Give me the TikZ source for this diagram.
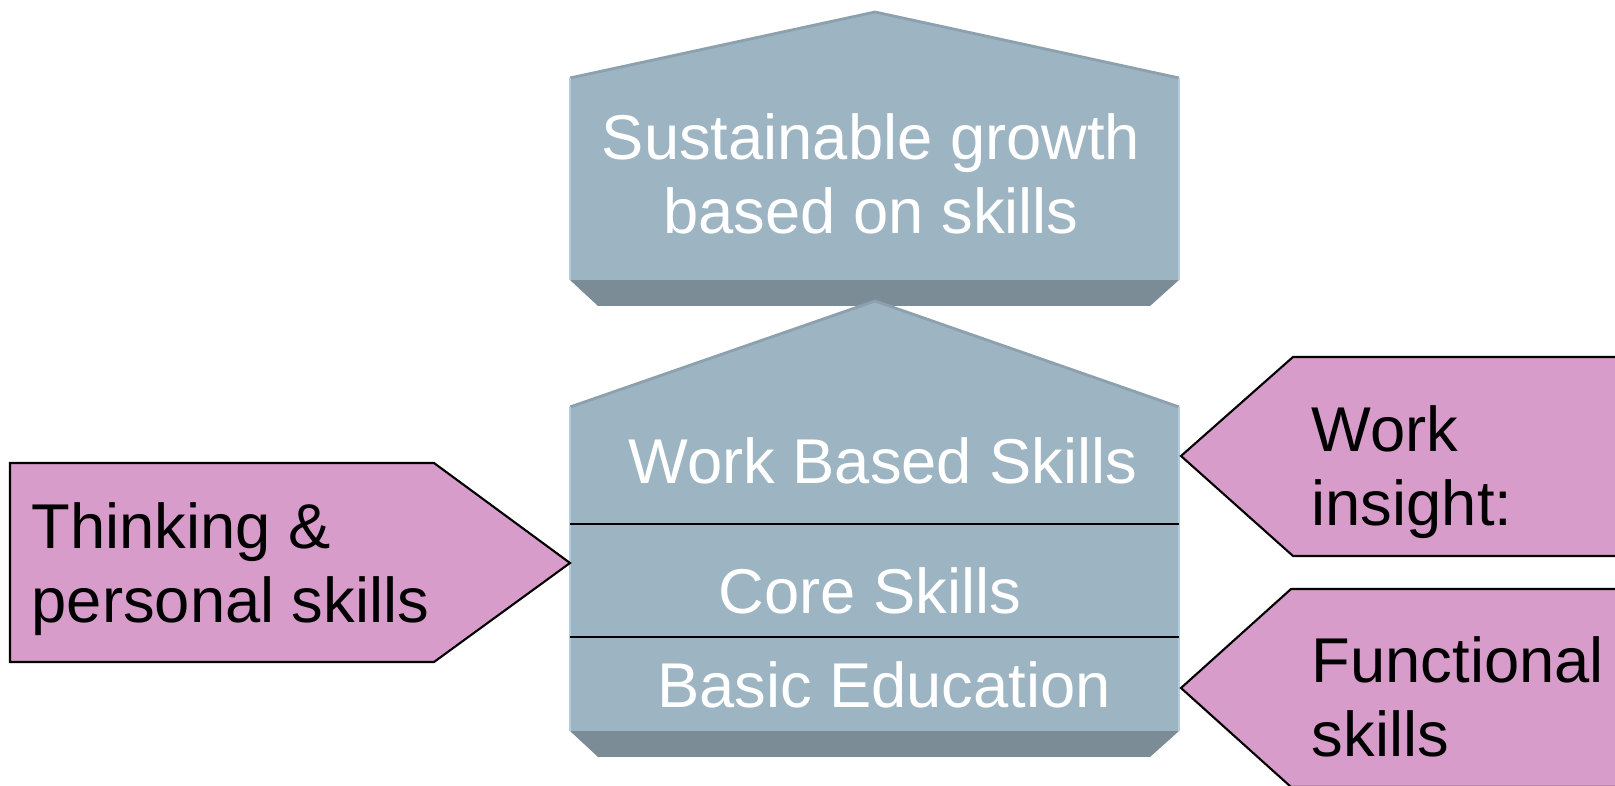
\documentclass[tikz,border=0pt]{standalone}
\usepackage{fontspec}
\setmainfont{Liberation Sans}
\usetikzlibrary{calc,positioning}
\definecolor{housefill}{RGB}{157,180,195}
\definecolor{houseshade}{RGB}{123,140,151}
\definecolor{houseedge}{RGB}{140,160,174}
\definecolor{houselight}{RGB}{180,205,222}
\definecolor{calloutfill}{RGB}{216,156,203}

\begin{document}
\begin{tikzpicture}[x=0.01cm, y=-0.01cm,
    every node/.style={font=\fontsize{18pt}{21pt}\selectfont},
    house/.style={fill=housefill},
    shade/.style={fill=houseshade},
    callout/.style={fill=calloutfill, draw=black, line width=0.6pt},
    housetext/.style={text=white, align=center, inner sep=0pt},
    callouttext/.style={text=black, align=left, anchor=west, inner sep=0pt}]
        \clip (0,0) rectangle (1615,786);

        % top house
        \coordinate (t1) at (570,78);
        \coordinate (t2) at (875,12);
        \coordinate (t3) at (1179,78);
        \coordinate (t4) at (1179,280);
        \coordinate (t5) at (570,280);
        \fill[shade] (t5) -- (t4) -- (1150,306) -- (598,306) -- cycle;
        \fill[house] (t1)--(t2)--(t3)--(t4)--(t5)-- cycle;
        \draw[houseedge, line width=0.8pt] (t1)--(t2)--(t3);
        \draw[houselight, line width=0.8pt] (t1)--(t5);
        \draw[houselight, line width=0.8pt] (t3)--(t4);
        \node[housetext] (growth) at (871,174) {Sustainable growth\\based on skills};

        % bottom house
        \coordinate (b1) at (570,407);
        \coordinate (b2) at (875,301);
        \coordinate (b3) at (1179,407);
        \coordinate (b4) at (1179,731);
        \coordinate (b5) at (570,731);
        \fill[shade] (b5) -- (b4) -- (1150,757) -- (598,757) -- cycle;
        \fill[house] (b1)--(b2)--(b3)--(b4)--(b5)-- cycle;
        \draw[houseedge, line width=0.8pt] (b1)--(b2)--(b3);
        \draw[houselight, line width=0.8pt] (b1)--(b5);
        \draw[houselight, line width=0.8pt] (b3)--(b4);
        \coordinate (l1) at (570,524);
        \coordinate (l2) at (1179,524);
        \coordinate (l3) at (570,637);
        \coordinate (l4) at (1179,637);
        \draw[line width=0.8pt] (l1)--(l2);
        \draw[line width=0.8pt] (l3)--(l4);
        \node[housetext] (work) at (883,461) {Work Based Skills};
        \node[housetext] (core) at (870,591) {Core Skills};
        \node[housetext] (basic) at (884,685) {Basic Education};

        % left callout
        \draw[callout] (10,463) -- (434,463) -- (570,563) -- (434,662) -- (10,662) -- cycle;
        \node[callouttext] (thinking) at (31,569) {Thinking \&\\personal skills};

        % right callouts
        \draw[callout] (1181,456) -- (1293,357) -- (1640,357) -- (1640,556) -- (1293,556) -- cycle;
        \node[callouttext] (insight) at (1311,472) {Work\\insight:};
        \draw[callout] (1181,688) -- (1291,589) -- (1640,589) -- (1640,787) -- (1291,787) -- cycle;
        \node[callouttext] (functional) at (1311,697) {Functional\\skills};
    \end{tikzpicture}
\end{document}
